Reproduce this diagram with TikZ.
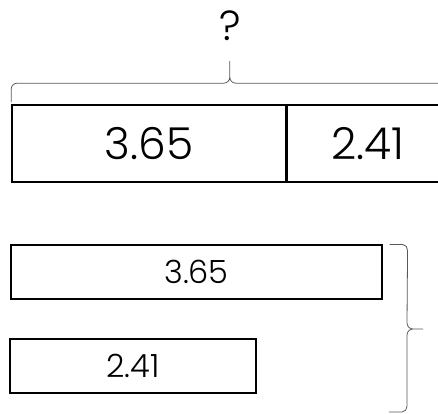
\documentclass[tikz,border=0pt]{standalone}
\usepackage{fontspec}
\setmainfont{Poppins Light}
\usetikzlibrary{calc}
\tikzset{
  bigbar/.style={draw=black, line width=1.6pt, minimum height=77pt, inner sep=0pt, font=\fontsize{44}{44}\selectfont},
  smallbar/.style={draw=black, line width=1.1pt, minimum height=54pt, inner sep=0pt, font=\fontsize{32}{32}\selectfont},
  bracket/.style={draw=black!65, line width=0.8pt},
  asks/.style={font=\fontsize{42}{42}\selectfont}
}
\begin{document}
\begin{tikzpicture}[x=1pt,y=1pt]
\useasboundingbox (0,0) rectangle (438,413);
% the whole bar on top
\node[bigbar, minimum width=274pt] (whole) at (149,269.5) {3.65};
\node[bigbar, minimum width=160pt, anchor=west] (part) at (whole.east) {2.41};
\coordinate (bl) at ($(whole.north west)+(0,2)$);
\coordinate (br) at ($(part.north east)+(0,2)$);
\coordinate (tip) at ($(bl)!0.5!(br)+(0,41)$);
\draw[bracket] (bl) -- ++(0,13) to[out=90,in=180] ++(6,6) -- ($(tip)+(-6,-22)$)
  to[out=0,in=270] ($(tip)+(0,-16)$) -- (tip)
  (tip) -- ($(tip)+(0,-16)$) to[out=270,in=180] ($(tip)+(6,-22)$) -- ($(br)+(-6,19)$)
  to[out=0,in=90] ($(br)+(0,13)$) -- (br);
\node[asks] (total) at ($(tip)+(0,35)$) {?};
% the two bars below
\node[smallbar, minimum width=371pt] (first) at (196.5,141) {3.65};
\node[smallbar, minimum width=246pt] (second) at (133,47) {2.41};
\coordinate (top) at ($(first.north east)+(7,0)$);
\coordinate (bottom) at (389,1);
\coordinate (point) at (423,84);
\draw[bracket] (top) -- ++(13,0) to[out=0,in=90] ++(5,-6) -- ($(point)+(-16,6)$)
  to[out=270,in=180] ($(point)+(-10,0)$) -- (point)
  (point) -- ($(point)+(-10,0)$) to[out=180,in=90] ($(point)+(-16,-6)$) -- ($(bottom)+(18,6)$)
  to[out=270,in=0] ($(bottom)+(13,0)$) -- (bottom);
\node[asks, anchor=west] (sum) at (435,86) {?};
\end{tikzpicture}
\end{document}
